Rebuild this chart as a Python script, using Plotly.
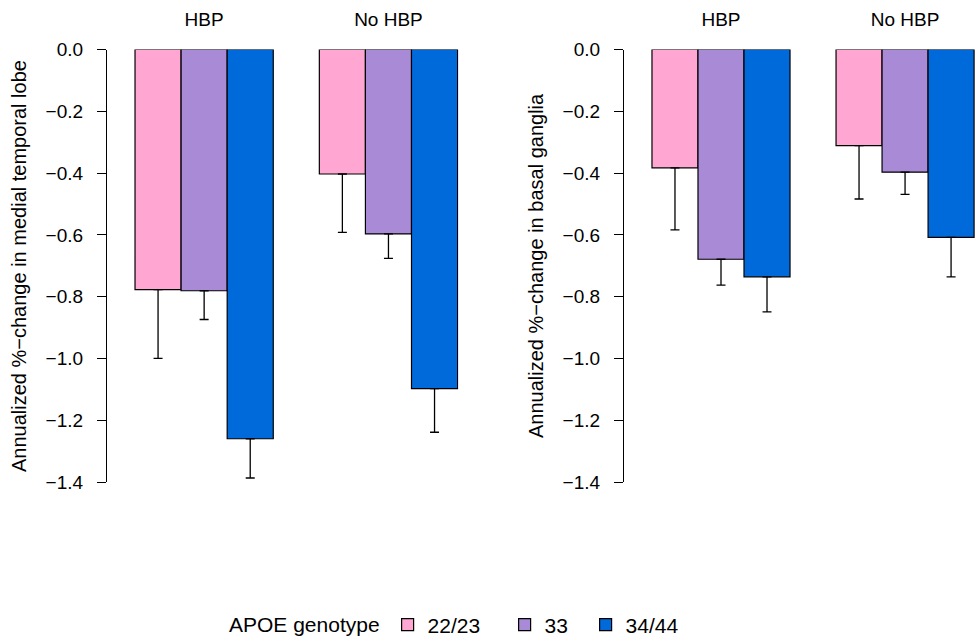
import plotly.graph_objects as go

groups = ["HBP", "No HBP"]
genotypes = ["22/23", "33", "34/44"]
colors = ["#FFA6D2", "#A88AD6", "#006ADB"]
legend_widths = [72, 36, 60]

# medial temporal lobe: mean, lower error end
mtl_mean = {"22/23": [-0.777, -0.403], "33": [-0.781, -0.597], "34/44": [-1.260, -1.098]}
mtl_low = {"22/23": [-1.000, -0.592], "33": [-0.874, -0.676], "34/44": [-1.387, -1.239]}
# basal ganglia
bg_mean = {"22/23": [-0.383, -0.311], "33": [-0.679, -0.397], "34/44": [-0.736, -0.608]}
bg_low = {"22/23": [-0.584, -0.484], "33": [-0.763, -0.469], "34/44": [-0.849, -0.736]}

ytick_vals = [0.0, -0.2, -0.4, -0.6, -0.8, -1.0, -1.2, -1.4]
ytick_text = ["0.0", "\u22120.2", "\u22120.4", "\u22120.6", "\u22120.8", "\u22121.0", "\u22121.2", "\u22121.4"]

FONT = "Liberation Sans, Arial, Helvetica, sans-serif"

fig = go.Figure()
for panel, (means, lows) in enumerate([(mtl_mean, mtl_low), (bg_mean, bg_low)]):
    xa = "x" if panel == 0 else "x2"
    ya = "y" if panel == 0 else "y2"
    for g, c, lw in zip(genotypes, colors, legend_widths):
        m = means[g]
        lo = lows[g]
        fig.add_trace(go.Bar(
            x=groups, y=m, name=g, legendgroup=g, showlegend=(panel == 0),
            legendwidth=lw,
            marker=dict(color=c, line=dict(color="black", width=1.2)),
            error_y=dict(type="data", symmetric=False,
                         array=[0 for _ in m],
                         arrayminus=[mi - l for mi, l in zip(m, lo)],
                         color="black", thickness=1.3, width=4.5),
            xaxis=xa, yaxis=ya,
        ))

H = 638.0
W = 975.0
ydom = [1 - 482 / H, 1 - 49.5 / H]
yaxis_common = dict(
    range=[-1.4, 0], tickvals=ytick_vals, ticktext=ytick_text,
    showline=True, linecolor="black", linewidth=1.2,
    ticks="outside", ticklen=9, tickwidth=1.2, tickcolor="black",
    showgrid=False, zeroline=False, domain=ydom, automargin=False,
    tickfont=dict(size=19, color="black", family=FONT),
    ticklabelstandoff=10,
)
xaxis_common = dict(
    range=[-0.527, 1.38], side="top", showline=False, showgrid=False,
    zeroline=False, ticks="", automargin=False,
    tickfont=dict(size=19, color="black", family=FONT),
    ticklabelstandoff=19,
)
fig.update_layout(
    template="none",
    width=975, height=638,
    margin=dict(l=0, r=0, t=0, b=0, autoexpand=False),
    plot_bgcolor="white", paper_bgcolor="white",
    barmode="group", bargap=0.25, bargroupgap=0,
    font=dict(family=FONT, color="black"),
    xaxis=dict(domain=[107 / W, 458.5 / W], anchor="y", **xaxis_common),
    xaxis2=dict(domain=[624 / W, 1.0], anchor="y2", **xaxis_common),
    yaxis=dict(anchor="x", **yaxis_common),
    yaxis2=dict(anchor="x2", **yaxis_common),
    legend=dict(
        orientation="h", x=227 / W, xanchor="left", y=(638 - 625) / H, yanchor="middle",
        title=dict(text="APOE genotype", font=dict(size=21, family=FONT)),
        font=dict(size=21, family=FONT), traceorder="normal",
        itemwidth=30, bgcolor="rgba(0,0,0,0)",
    ),
    annotations=[
        dict(text="Annualized %\u2212change in medial temporal lobe", textangle=-90,
             x=19 / W, y=1 - 266 / H, xref="paper", yref="paper", showarrow=False,
             xanchor="center", yanchor="middle",
             font=dict(size=20, family=FONT, color="black")),
        dict(text="Annualized %\u2212change in basal ganglia", textangle=-90,
             x=536 / W, y=1 - 266 / H, xref="paper", yref="paper", showarrow=False,
             xanchor="center", yanchor="middle",
             font=dict(size=20, family=FONT, color="black")),
    ],
)
fig.write_html("out.html", config={"displayModeBar": False},
               post_script="document.body.style.margin='0px';")
